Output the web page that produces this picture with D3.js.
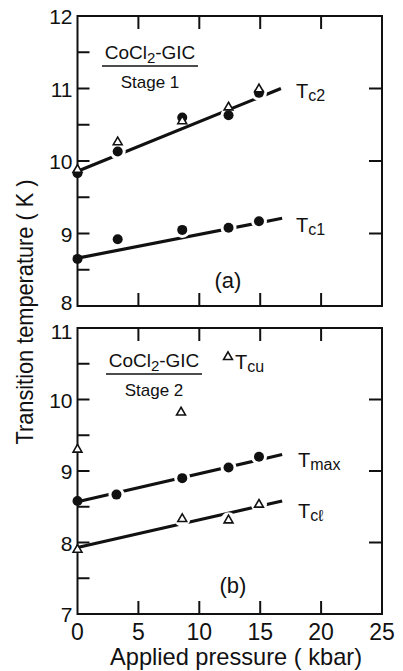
<!DOCTYPE html>
<html>
<head>
<meta charset="utf-8">
<script src="https://cdn.jsdelivr.net/npm/d3@7"></script>
<style>
  body { margin: 0; background: #fff; }
  svg text { font-family: "Liberation Sans", Arial, sans-serif; fill: #111; }
</style>
</head>
<body>
<div class="chart"></div>
<script>
// panel (a): stage 1
const pressA = [0, 3.3, 8.6, 12.4, 14.9];
const tc2Dots = [9.83, 10.13, 10.6, 10.63, 10.94];
const tc2Tris = [9.88, 10.26, 10.55, 10.74, 10.99];
const tc1Dots = [8.65, 8.92, 9.05, 9.08, 9.17];
const tc2Fit = [[0, 9.86], [16.7, 11.0]];
const tc1Fit = [[0, 8.66], [16.8, 9.21]];

// panel (b): stage 2
const pressMax = [0, 3.2, 8.6, 12.4, 14.9];
const tmaxDots = [8.58, 8.67, 8.9, 9.05, 9.2];
const pressCl = [0, 8.6, 12.4, 14.9];
const tclTris = [7.9, 8.33, 8.31, 8.53];
const pressCu = [0, 8.5];
const tcuTris = [9.3, 9.82];
const tmaxFit = [[0, 8.57], [16.8, 9.23]];
const tclFit = [[0, 7.93], [16.8, 8.58]];

const xTicks = [0, 5, 10, 15, 20, 25];
const yTicksA = [8, 9, 10, 11, 12];
const yTicksB = [7, 8, 9, 10, 11];

const W = 403, H = 671;
const svg = d3.select(".chart").append("svg").attr("width", W).attr("height", H);

const x = d3.scaleLinear().domain([0, 25]).range([77.5, 382]);
const yA = d3.scaleLinear().domain([8, 12]).range([306, 16]);
const yB = d3.scaleLinear().domain([7, 11]).range([614, 328]);

// labelShift nudges the lowest / highest label so the two panels' labels don't collide
function frame(y, yTicks, labelShift) {
    const [y0, y1] = y.range();
    const [x0, x1] = x.range();
    const g = svg.append("g");
    g.append("rect").attr("x", x0).attr("y", y1).attr("width", x1 - x0).attr("height", y0 - y1)
        .attr("fill", "none").attr("stroke", "#111").attr("stroke-width", 2);
    const inner = xTicks.slice(1, -1);
    g.selectAll(".tb").data(inner).join("line")
        .attr("x1", d => x(d)).attr("x2", d => x(d)).attr("y1", y0).attr("y2", y0 - 13)
        .attr("stroke", "#111").attr("stroke-width", 2);
    g.selectAll(".tt").data(inner).join("line")
        .attr("x1", d => x(d)).attr("x2", d => x(d)).attr("y1", y1).attr("y2", y1 + 13)
        .attr("stroke", "#111").attr("stroke-width", 2);
    const d0 = y.domain();
    const leftTicks = d3.range(d0[0] + 0.5, d0[1], 0.5);
    g.selectAll(".tl").data(leftTicks).join("line")
        .attr("x1", x0).attr("x2", x0 + 12).attr("y1", d => y(d)).attr("y2", d => y(d))
        .attr("stroke", "#111").attr("stroke-width", 2);
    const rightTicks = d3.range(d0[0] + 1, d0[1], 1);
    g.selectAll(".tr").data(rightTicks).join("line")
        .attr("x1", x1).attr("x2", x1 - 13).attr("y1", d => y(d)).attr("y2", d => y(d))
        .attr("stroke", "#111").attr("stroke-width", 2);
    g.selectAll(".yl").data(yTicks).join("text")
        .attr("x", x0 - 5).attr("y", d => y(d) + 8 + (labelShift[d] || 0))
        .attr("text-anchor", "end").attr("font-size", 21)
        .text(d => d);
    return g;
}

frame(yA, yTicksA, {8: -4});
frame(yB, yTicksB, {11: 3});

const line = d3.line();

function fitLine(pts, y, holes) {
    const g = svg.append("g");
    g.append("path").attr("d", line(pts.map(p => [x(p[0]), y(p[1])])))
        .attr("fill", "none").attr("stroke", "#111").attr("stroke-width", 3.2);
    // white halos make the gaps around the markers
    g.selectAll("circle").data(holes).join("circle")
        .attr("cx", d => x(d[0])).attr("cy", d => y(d[1])).attr("r", 8).attr("fill", "#fff");
}

function dots(px, py, y) {
    svg.append("g").selectAll("circle").data(px).join("circle")
        .attr("cx", d => x(d)).attr("cy", (d, i) => y(py[i])).attr("r", 5).attr("fill", "#111");
}

const tri = d3.symbol().type(d3.symbolTriangle).size(34);
function tris(px, py, y) {
    svg.append("g").selectAll("path").data(px).join("path")
        .attr("d", tri)
        .attr("transform", (d, i) => `translate(${x(d)},${y(py[i])})`)
        .attr("fill", "#fff").attr("stroke", "#111").attr("stroke-width", 1.6);
}

const zip = (a, b) => a.map((v, i) => [v, b[i]]);

// panel (a)
fitLine(tc2Fit, yA, zip(pressA, tc2Dots).slice(1));
fitLine(tc1Fit, yA, zip(pressA, tc1Dots).slice(2));
dots(pressA, tc2Dots, yA);
dots(pressA, tc1Dots, yA);
tris(pressA, tc2Tris, yA);

// panel (b)
fitLine(tmaxFit, yB, zip(pressMax, tmaxDots).slice(1));
fitLine(tclFit, yB, zip(pressCl, tclTris).slice(1));
dots(pressMax, tmaxDots, yB);
tris(pressCl, tclTris, yB);
tris(pressCu, tcuTris, yB);

// labels
function tLabel(px, py, sub) {
    const t = svg.append("text").attr("x", px).attr("y", py).attr("font-size", 20);
    t.append("tspan").text("T");
    t.append("tspan").attr("font-size", 16).attr("dy", 3).text(sub);
}
tLabel(296, 98, "c2");
tLabel(296, 232, "c1");
tLabel(298, 467, "max");
tLabel(298, 518, "cℓ");
tLabel(235, 369, "cu");
svg.append("path").attr("d", tri).attr("transform", "translate(228,357)")
    .attr("fill", "#fff").attr("stroke", "#111").attr("stroke-width", 1.6);

function stageLabel(cx, yTop, stage) {
    const t = svg.append("text").attr("x", cx).attr("y", yTop).attr("text-anchor", "middle")
        .attr("font-size", 19);
    t.append("tspan").text("CoCl");
    t.append("tspan").attr("font-size", 15).attr("dy", 4).text("2");
    t.append("tspan").attr("dy", -4).text("-GIC");
    svg.append("line").attr("x1", cx - 48).attr("x2", cx + 48)
        .attr("y1", yTop + 7).attr("y2", yTop + 7).attr("stroke", "#111").attr("stroke-width", 1.6);
    svg.append("text").attr("x", cx).attr("y", yTop + 29).attr("text-anchor", "middle")
        .attr("font-size", 17).text("Stage " + stage);
}
stageLabel(150, 59, 1);
stageLabel(154, 367, 2);

svg.append("text").attr("x", 228).attr("y", 288).attr("text-anchor", "middle")
    .attr("font-size", 22).text("(a)");
svg.append("text").attr("x", 233).attr("y", 593).attr("text-anchor", "middle")
    .attr("font-size", 22).text("(b)");

// x tick labels
svg.append("g").selectAll("text").data(xTicks).join("text")
    .attr("x", d => x(d)).attr("y", 640).attr("text-anchor", "middle")
    .attr("font-size", 23).text(d => d);

svg.append("text").attr("x", 236).attr("y", 665).attr("text-anchor", "middle")
    .attr("font-size", 24).attr("textLength", 252).attr("lengthAdjust", "spacingAndGlyphs")
    .text("Applied pressure ( kbar)");

svg.append("text").attr("transform", "translate(33,312) rotate(-90)")
    .attr("text-anchor", "middle").attr("font-size", 24)
    .attr("textLength", 265).attr("lengthAdjust", "spacingAndGlyphs")
    .text("Transition temperature ( K )");
</script>
</body>
</html>
